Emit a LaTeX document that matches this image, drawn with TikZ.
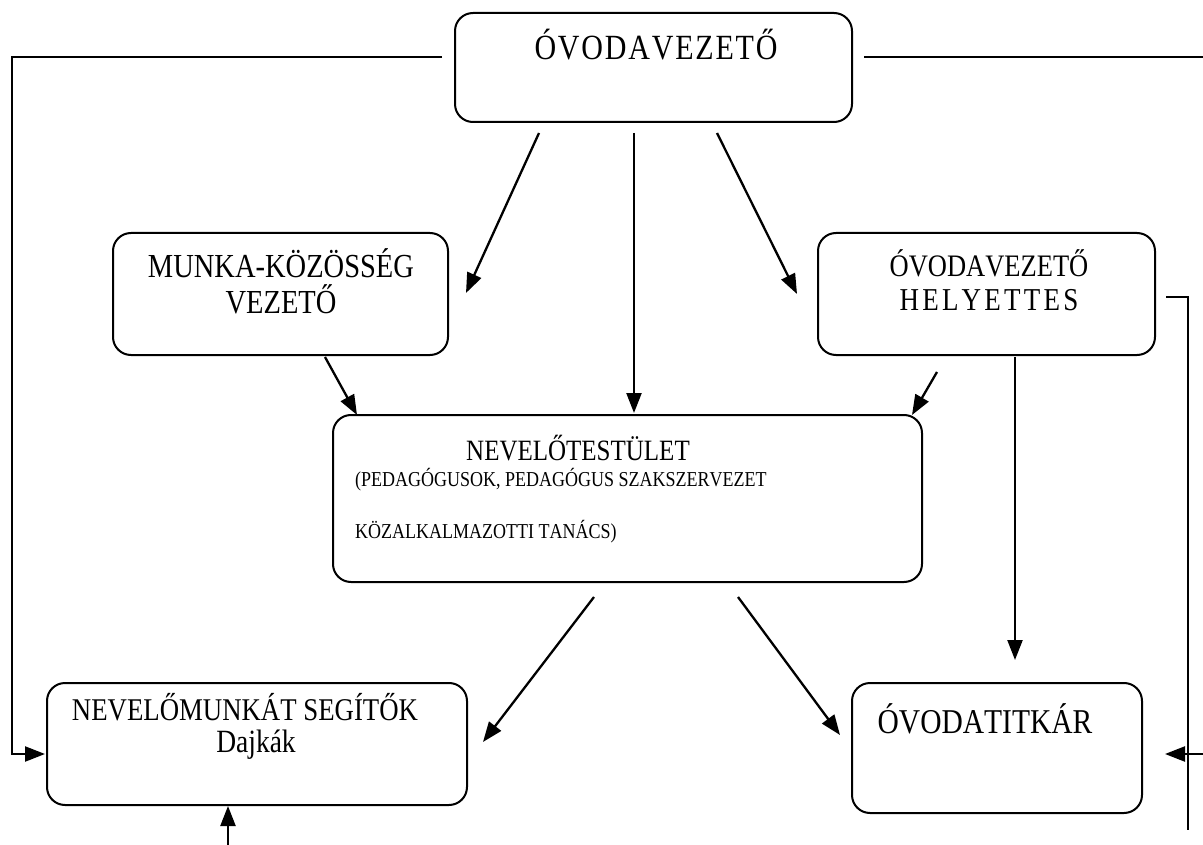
\documentclass[tikz,border=0pt]{standalone}
\usepackage{fontspec}
\setmainfont[Kerning=Off]{Liberation Serif}
\usetikzlibrary{arrows.meta}
\newcommand{\fsz}[2]{\fontsize{#1}{#2}\selectfont}
\newcommand{\lsp}[1]{\addfontfeature{LetterSpace=#1}}
\newcommand{\tall}[1]{\scalebox{1}[1.18]{#1}}
\begin{document}
\begin{tikzpicture}[x=1pt,y=-1pt,
  box/.style={draw, line width=2pt, rounded corners=18pt, inner sep=0pt},
  conn/.style={line width=2.3pt},
  arr/.style={conn,-{Triangle[length=20pt,width=15pt]}},
  lbl/.style={inner sep=0pt, anchor=base}]
\useasboundingbox (0,0) rectangle (1203,845);
\fill[white] (0,0) rectangle (1203,845);

% boxes
\node[box, minimum width=397pt, minimum height=109pt] (top) at (653.5,67.5) {};
\node[box, minimum width=335pt, minimum height=122pt] (munka) at (280.5,294) {};
\node[box, minimum width=337pt, minimum height=122pt] (hely) at (986.5,294) {};
\node[box, minimum width=589pt, minimum height=167pt] (nev) at (627.5,498.5) {};
\node[box, minimum width=420pt, minimum height=122pt] (segito) at (257,744) {};
\node[box, minimum width=290pt, minimum height=130pt] (titkar) at (997,748) {};

% texts
\node[lbl] (tTop) at (656,60) {\tall{\fsz{30}{36}\lsp{6}ÓVODAVEZETŐ}};
\node[lbl] (tM1) at (281,278) {\tall{\fsz{28.5}{34}MUNKA-KÖZÖSSÉG}};
\node[lbl] (tM2) at (281,313) {\tall{\fsz{28.5}{34}VEZETŐ}};
\node[lbl] (tH1) at (989,277) {\tall{\fsz{26.5}{30}ÓVODAVEZETŐ}};
\node[lbl] (tH2) at (989,310) {\tall{\fsz{27}{30}\lsp{12}HELYETTES}};
\node[lbl] (tN1) at (578,460) {\tall{\fsz{25}{30}NEVELŐTESTÜLET}};
\node[lbl, anchor=base west] (tN2) at (355,486) {\tall{\fsz{18}{22}(PEDAGÓGUSOK, PEDAGÓGUS SZAKSZERVEZET}};
\node[lbl, anchor=base west] (tN3) at (355,538) {\tall{\fsz{18}{22}KÖZALKALMAZOTTI TANÁCS)}};
\node[lbl] (tS1) at (245,720) {\tall{\fsz{26.8}{32}NEVELŐMUNKÁT SEGÍTŐK}};
\node[lbl] (tS2) at (256,752) {\tall{\fsz{27.5}{32}Dajkák}};
\node[lbl] (tT1) at (985,733) {\tall{\fsz{29.5}{34}ÓVODATITKÁR}};

% connector end points
\coordinate (a1) at (539,133); \coordinate (a2) at (466,293);
\coordinate (b1) at (634,133); \coordinate (b2) at (634,413);
\coordinate (c1) at (717,133); \coordinate (c2) at (797,294);
\coordinate (d1) at (325,357); \coordinate (d2) at (357,415);
\coordinate (e1) at (937,372); \coordinate (e2) at (912,415);
\coordinate (f1) at (1015,357); \coordinate (f2) at (1015,660);
\coordinate (g1) at (594,597); \coordinate (g2) at (483,742);
\coordinate (h1) at (738,597); \coordinate (h2) at (840,735);
\coordinate (L0) at (442,57); \coordinate (Lc) at (12,754); \coordinate (L1) at (45,754);
\coordinate (R0) at (864,57); \coordinate (R1) at (1203,57);
\coordinate (H0) at (1166,297); \coordinate (Hc) at (1188,830);
\coordinate (T0) at (1203,754); \coordinate (T1) at (1165,754);
\coordinate (B0) at (228,845); \coordinate (B1) at (228,806);

% connectors
\draw[arr] (a1) -- (a2);
\draw[arr] (b1) -- (b2);
\draw[arr] (c1) -- (c2);
\draw[arr] (d1) -- (d2);
\draw[arr] (e1) -- (e2);
\draw[arr] (f1) -- (f2);
\draw[arr] (g1) -- (g2);
\draw[arr] (h1) -- (h2);
\draw[arr] (L0) -| (Lc) -- (L1);
\draw[conn] (R0) -- (R1);
\draw[conn] (H0) -| (Hc);
\draw[arr] (T0) -- (T1);
\draw[arr] (B0) -- (B1);
\end{tikzpicture}
\end{document}
